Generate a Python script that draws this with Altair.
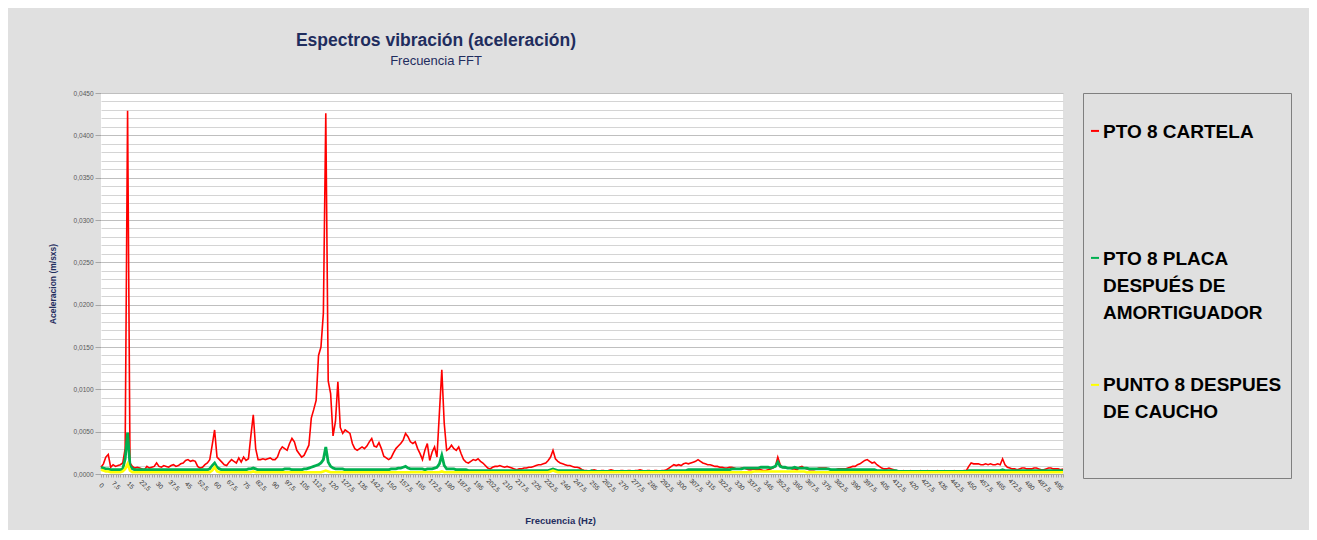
import altair as alt
import pandas as pd

# ---------------- data ----------------
FREQ_STEP_HZ = 1.25
N_BINS = 399
FREQ = [round(i * FREQ_STEP_HZ, 2) for i in range(N_BINS)]  # 0 ... 497.5 Hz (FFT bins)

# amplitudes in units of 0.0001 m/s2
RED = [
    8, 12, 20, 23, 8, 11, 9, 10, 11, 13, 30, 429, 13, 9, 7, 8, 7, 6, 5, 9,
    7, 8, 9, 13, 9, 8, 10, 9, 8, 10, 11, 9, 10, 12, 13, 16, 17, 15, 16, 15,
    9, 7, 8, 11, 13, 17, 34, 52, 20, 17, 14, 11, 10, 14, 17, 15, 13, 19, 14, 20,
    16, 18, 45, 70, 30, 17, 17, 18, 17, 18, 19, 17, 17, 20, 28, 32, 30, 28, 36, 42,
    38, 28, 24, 20, 22, 28, 34, 66, 76, 87, 140, 150, 190, 426, 110, 95, 45, 62, 109, 55,
    48, 52, 50, 48, 36, 30, 28, 30, 32, 30, 33, 38, 42, 33, 32, 37, 30, 21, 19, 17,
    19, 25, 30, 33, 36, 40, 48, 44, 38, 36, 38, 30, 24, 17, 28, 36, 16, 26, 32, 20,
    72, 123, 60, 28, 30, 34, 30, 28, 32, 24, 17, 14, 13, 15, 17, 16, 18, 15, 13, 10,
    7, 6, 8, 9, 9, 10, 9, 8, 9, 8, 7, 6, 5, 6, 6, 7, 7, 8, 8, 9,
    10, 11, 11, 12, 13, 16, 20, 28, 18, 15, 13, 12, 11, 10, 10, 9, 8, 8, 7, 5,
    4, 4, 3, 4, 5, 4, 3, 4, 4, 3, 4, 5, 4, 3, 3, 4, 4, 3, 4, 4,
    3, 4, 4, 5, 4, 3, 4, 4, 3, 4, 4, 3, 4, 4, 5, 7, 9, 11, 10, 11,
    10, 12, 13, 12, 13, 14, 15, 17, 15, 13, 12, 11, 11, 10, 9, 9, 8, 8, 7, 7,
    8, 8, 7, 6, 6, 7, 7, 6, 5, 5, 6, 5, 5, 5, 4, 4, 5, 6, 7, 9,
    20, 11, 8, 7, 7, 7, 6, 6, 5, 8, 9, 7, 6, 5, 5, 5, 6, 7, 7, 7,
    7, 6, 5, 5, 5, 6, 6, 6, 6, 7, 8, 9, 9, 11, 12, 14, 16, 17, 15, 13,
    14, 11, 9, 7, 6, 6, 7, 6, 5, 4, 3, 3, 4, 3, 3, 4, 3, 3, 3, 4,
    3, 3, 4, 3, 3, 3, 4, 3, 3, 4, 3, 3, 3, 4, 3, 3, 3, 4, 4, 9,
    13, 12, 12, 12, 11, 11, 12, 11, 12, 11, 11, 12, 11, 18, 11, 8, 7, 6, 6, 5,
    6, 7, 7, 6, 6, 6, 7, 7, 6, 5, 5, 6, 7, 7, 6, 6, 6, 5, 6,
]
GREEN = [
    8, 7, 6, 6, 5, 5, 5, 5, 5, 6, 18, 49, 10, 6, 5, 5, 5, 5, 5, 5,
    5, 5, 5, 5, 5, 5, 5, 5, 5, 5, 5, 5, 5, 5, 5, 5, 5, 5, 5, 5,
    5, 5, 5, 5, 5, 6, 10, 13, 8, 6, 5, 5, 5, 5, 5, 5, 5, 5, 5, 5,
    5, 6, 6, 7, 6, 5, 5, 5, 5, 5, 5, 5, 5, 5, 5, 5, 6, 6, 6, 5,
    5, 5, 5, 5, 6, 6, 7, 8, 9, 10, 11, 13, 17, 32, 14, 9, 7, 6, 6, 6,
    6, 5, 5, 5, 5, 5, 5, 5, 5, 5, 5, 5, 5, 5, 5, 5, 5, 5, 5, 5,
    6, 6, 6, 7, 7, 8, 9, 7, 6, 6, 6, 6, 6, 6, 5, 6, 6, 6, 7, 8,
    12, 22, 10, 6, 6, 6, 6, 5, 5, 5, 5, 5, 4, 4, 4, 4, 4, 4, 4, 4,
    4, 4, 4, 4, 4, 4, 4, 4, 4, 4, 4, 4, 4, 4, 4, 4, 4, 4, 4, 4,
    4, 4, 4, 4, 4, 4, 5, 6, 5, 4, 4, 4, 4, 4, 4, 4, 4, 4, 4, 4,
    3, 3, 3, 4, 3, 3, 3, 3, 3, 3, 3, 3, 3, 3, 3, 3, 3, 3, 3, 3,
    3, 3, 3, 3, 3, 3, 3, 3, 3, 3, 3, 3, 3, 3, 3, 4, 4, 4, 4, 4,
    4, 4, 4, 5, 5, 5, 5, 5, 5, 5, 5, 5, 5, 5, 5, 5, 5, 5, 5, 5,
    5, 6, 6, 6, 6, 6, 7, 7, 7, 7, 7, 7, 7, 8, 8, 8, 8, 7, 8, 9,
    14, 9, 8, 8, 7, 7, 7, 8, 7, 7, 7, 7, 7, 6, 6, 6, 6, 6, 6, 6,
    6, 6, 5, 5, 5, 5, 5, 5, 5, 5, 5, 5, 5, 5, 5, 5, 5, 5, 5, 5,
    5, 4, 4, 4, 4, 4, 4, 4, 4, 4, 3, 3, 3, 3, 3, 3, 3, 3, 3, 3,
    3, 3, 3, 3, 3, 3, 3, 3, 3, 3, 3, 3, 3, 3, 3, 3, 3, 3, 3, 4,
    4, 4, 4, 4, 4, 4, 4, 4, 4, 4, 4, 4, 4, 5, 4, 4, 4, 4, 4, 4,
    4, 4, 4, 4, 4, 4, 4, 4, 4, 4, 4, 4, 4, 4, 4, 4, 4, 4, 4,
]
YELLOW = [
    5, 4, 3, 3, 2, 2, 2, 2, 2, 3, 6, 12, 4, 2, 2, 2, 2, 2, 2, 2,
    2, 2, 2, 2, 2, 2, 2, 2, 2, 2, 2, 2, 2, 2, 2, 2, 2, 2, 2, 2,
    2, 2, 2, 2, 2, 2, 4, 8, 3, 2, 2, 2, 2, 2, 2, 2, 2, 2, 2, 2,
    2, 2, 2, 3, 2, 2, 2, 2, 2, 2, 2, 2, 2, 2, 2, 2, 2, 2, 2, 2,
    2, 2, 2, 2, 2, 2, 2, 2, 2, 2, 2, 2, 3, 4, 3, 2, 2, 2, 2, 2,
    2, 2, 2, 2, 2, 2, 2, 2, 2, 2, 2, 2, 2, 2, 2, 2, 2, 2, 2, 2,
    2, 2, 2, 2, 2, 2, 2, 2, 2, 2, 2, 2, 2, 2, 2, 2, 2, 2, 2, 2,
    2, 3, 2, 2, 2, 2, 2, 2, 2, 2, 2, 2, 2, 2, 2, 2, 2, 2, 2, 2,
    2, 2, 2, 2, 2, 2, 2, 2, 2, 2, 2, 2, 2, 2, 2, 2, 2, 2, 2, 2,
    2, 2, 2, 2, 2, 2, 3, 4, 3, 2, 2, 2, 2, 2, 2, 2, 2, 2, 2, 2,
    2, 2, 2, 2, 2, 2, 2, 2, 2, 2, 2, 2, 2, 2, 2, 2, 2, 2, 2, 2,
    2, 2, 2, 2, 2, 2, 2, 2, 2, 2, 2, 2, 2, 2, 2, 2, 2, 2, 2, 2,
    2, 2, 2, 2, 2, 2, 2, 2, 2, 2, 2, 2, 2, 2, 2, 2, 2, 2, 2, 2,
    2, 2, 2, 2, 2, 2, 2, 2, 2, 2, 3, 3, 3, 3, 3, 3, 3, 3, 3, 3,
    3, 3, 3, 3, 3, 3, 3, 3, 3, 3, 3, 3, 2, 2, 2, 2, 2, 2, 2, 2,
    2, 2, 2, 2, 2, 2, 2, 2, 2, 2, 2, 2, 2, 2, 2, 2, 2, 2, 2, 2,
    2, 2, 2, 2, 2, 2, 2, 2, 2, 2, 2, 2, 2, 2, 2, 2, 2, 2, 2, 2,
    2, 2, 2, 2, 2, 2, 2, 2, 2, 2, 2, 2, 2, 2, 2, 2, 2, 2, 2, 2,
    2, 2, 2, 2, 2, 2, 2, 2, 2, 2, 2, 2, 2, 2, 2, 2, 2, 2, 2, 2,
    2, 2, 2, 2, 2, 2, 2, 2, 2, 2, 2, 2, 2, 2, 2, 2, 2, 2, 2,
]
UNIT = 0.0001

SERIES = ["PTO 8 CARTELA", "PTO 8 PLACA DESPUÉS DE AMORTIGUADOR", "PUNTO 8 DESPUES DE CAUCHO"]
LEGEND_TEXT = ["PTO 8 CARTELA", "PTO 8 PLACA\nDESPUÉS DE\nAMORTIGUADOR", "PUNTO 8 DESPUES\nDE CAUCHO"]
COLORS = ["#ff0000", "#00b050", "#ffff00"]
Y_TICKS = [round(i * 0.001, 3) for i in range(46)]

TITLE = "Espectros vibración (aceleración)"
SUBTITLE = "Frecuencia FFT"
X_TITLE = "Frecuencia (Hz)"
Y_TITLE = "Aceleracion (m/sxs)"

FONT = "Liberation Sans, Arial, sans-serif"
NAVY = "#1f2d5e"
BG = "#e0e0e0"


def series_frame(name, values):
    return pd.DataFrame({"freq": FREQ, "acc": [v * UNIT for v in values], "serie": name})


frames = [series_frame(SERIES[0], RED), series_frame(SERIES[1], GREEN), series_frame(SERIES[2], YELLOW)]

color_scale = alt.Scale(domain=SERIES, range=COLORS)
major_test = "round(datum.value * 1000) % 5 == 0"

x_enc = alt.X(
    "freq:Q",
    scale=alt.Scale(domain=[0, 497.5], nice=False, zero=False),
    axis=alt.Axis(
        values=FREQ,
        labelExpr="datum.value % 7.5 == 0 ? replace(toString(datum.value), '.', ',') : ''",
        labelAngle=45, labelAlign="center", labelBaseline="middle", labelPadding=8,
        labelFont=FONT, labelFontSize=6.5, labelColor="#333333",
        labelOverlap=False, labelFlush=False, labelBound=False,
        tickSize=3, tickColor="#a6a6a6", domainColor="#a6a6a6", grid=False,
        title=X_TITLE, titleFont=FONT, titleFontSize=9.5, titleFontWeight="bold",
        titleColor=NAVY, titleX=459, titleY=46, titleAlign="center", titleBaseline="middle",
    ),
)
y_enc = alt.Y(
    "acc:Q",
    scale=alt.Scale(domain=[0, 0.045], nice=False, zero=True),
    axis=alt.Axis(
        values=Y_TICKS,
        labelExpr=major_test + " ? replace(format(datum.value, '.4f'), '.', ',') : ''",
        labelFont=FONT, labelFontSize=6.5, labelColor="#595959", labelPadding=2,
        tickSize=6,
        tickColor={"condition": {"test": major_test, "value": "#a6a6a6"}, "value": "transparent"},
        gridColor={"condition": {"test": major_test, "value": "#bfbfbf"}, "value": "#d4d4d4"},
        domain=False,
        title=Y_TITLE, titleFont=FONT, titleFontSize=8.5, titleFontWeight="bold", titleColor=NAVY,
        titleX=-49, titleY=190.5, titleAlign="center", titleBaseline="middle", titleAngle=270,
    ),
)

widths = [1.6, 2.8, 2.6]
layers = [
    alt.Chart(f).mark_line(strokeWidth=w, interpolate="linear").encode(
        x=x_enc, y=y_enc, color=alt.Color("serie:N", scale=color_scale, legend=None)
    )
    for f, w in zip(frames, widths)
]
main = alt.layer(*layers).properties(
    width=962, height=381, view=alt.ViewBackground(fill="white", strokeWidth=0)
)

# legend panel
leg_df = pd.DataFrame({"serie": SERIES, "texto": LEGEND_TEXT})
leg_y = alt.Y("serie:N", sort=SERIES, axis=None, scale=alt.Scale(type="point", padding=0.516))
leg_syms = alt.Chart(leg_df).mark_point(
    shape="stroke", filled=False, size=64, strokeWidth=2, opacity=1, yOffset=-27.6
).encode(x=alt.value(12), y=leg_y, color=alt.Color("serie:N", scale=color_scale, legend=None))
leg_text = alt.Chart(leg_df).mark_text(
    align="left", baseline="top", font=FONT, fontSize=19, fontWeight="bold", color="#000000",
    lineBreak="\n", lineHeight=27, dy=-36,
).encode(x=alt.value(20), y=leg_y, text="texto:N")
legend_panel = alt.layer(leg_syms, leg_text).properties(
    width=208, height=385,
    view=alt.ViewBackground(fill=BG, stroke="#7f7f7f", strokeWidth=1),
)

chart = (
    alt.hconcat(main, legend_panel, spacing=20, bounds="flush")
    .resolve_scale(x="independent", y="independent")
    .properties(
        title=alt.TitleParams(
            text=TITLE, subtitle=SUBTITLE, anchor="start", frame="group", align="center", dx=335,
            font=FONT, fontSize=17.5, fontWeight="bold", color=NAVY,
            subtitleFont=FONT, subtitleFontSize=13, subtitleColor=NAVY, subtitleFontWeight="normal",
            subtitlePadding=6, offset=22,
        ),
        background=BG,
        padding={"left": 40, "top": 23, "right": 17, "bottom": 5},
    )
    .configure_view(strokeWidth=0)
)

chart.save("out.html", embed_options={"renderer": "svg", "actions": False})
